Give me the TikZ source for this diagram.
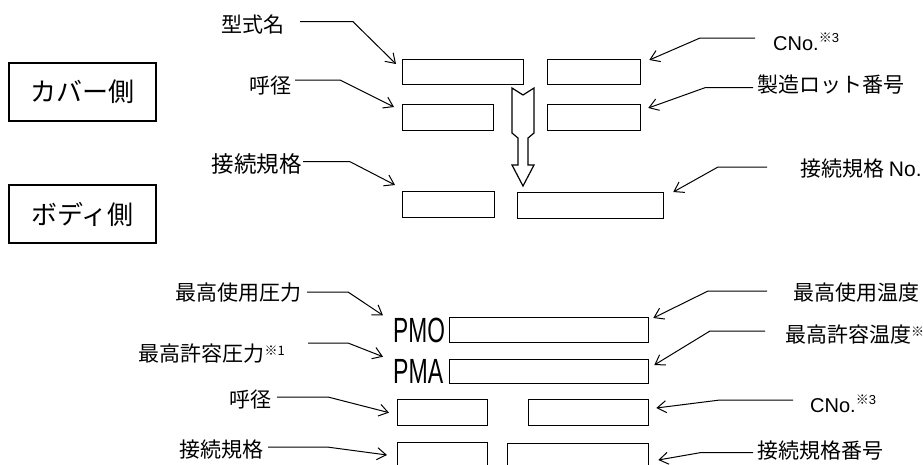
\documentclass[tikz,border=0pt]{standalone}
\usepackage{fontspec}
\setmainfont{Liberation Sans}
\newfontfamily\jp{Noto Sans CJK JP}
\usetikzlibrary{arrows.meta}
\newcommand{\kome}[2]{\raisebox{#2}{\fontsize{13}{13}\selectfont{\jp ※}#1}}
\begin{document}
\begin{tikzpicture}[x=1pt,y=-1pt,
  fld/.style={draw, line width=1.3pt, inner sep=0pt, anchor=north west},
  side/.style={draw, line width=1.6pt, inner sep=0pt, minimum width=147pt, minimum height=58pt, font=\jp\fontsize{26}{26}\selectfont},
  lbl/.style={inner sep=0pt, font=\jp\fontsize{21}{21}\selectfont},
  lead/.style={line width=1pt, -{Straight Barb[length=9pt,width=12pt]}},
  pm/.style={inner sep=0pt, anchor=base west, font=\fontsize{35}{35}\selectfont},
  blockarrow/.style={draw, line width=1.2pt, fill=white, line join=miter}
]
\clip (0,0) rectangle (923,464);
\fill[white] (0,0) rectangle (923,464);

% side boxes
\node[side] (cover) at (82.5,92) {カバー側};
\node[side] (body) at (82.5,214) {ボディ側};

% cover fields
\node[fld, minimum width=121pt, minimum height=25pt] (b1) at (402,59) {};
\node[fld, minimum width=93pt, minimum height=25pt] (b2) at (547,59) {};
\node[fld, minimum width=91pt, minimum height=26pt] (b3) at (402,104) {};
\node[fld, minimum width=93pt, minimum height=26pt] (b4) at (547,104) {};
% body fields
\node[fld, minimum width=92pt, minimum height=26pt] (b5) at (402,191) {};
\node[fld, minimum width=146pt, minimum height=26pt] (b6) at (517,192) {};

% bottom
\node[pm] (pmo) at (393,342) {\scalebox{0.65}[1]{PMO}};
\node[pm] (pma) at (393,383) {\scalebox{0.66}[1]{PMA}};
\node[fld, minimum width=199pt, minimum height=25pt] (b7) at (449,317) {};
\node[fld, minimum width=199pt, minimum height=24pt] (b8) at (449,359) {};
\node[fld, minimum width=90pt, minimum height=26pt] (b9) at (397,399) {};
\node[fld, minimum width=120pt, minimum height=26pt] (b10) at (528,399) {};
\node[fld, minimum width=90pt, minimum height=26pt] (b11) at (397,442) {};
\node[fld, minimum width=141pt, minimum height=26pt] (b12) at (507,443) {};

% block arrow
\draw[blockarrow] (512,88) -- (523,95) -- (534,88) -- (534,133) -- (528,138) -- (528,165)
  -- (534,165) -- (523,186) -- (512,165) -- (518,165) -- (518,138) -- (512,133) -- cycle;

% left labels
\node[lbl, anchor=east] (l1) at (285,25) {型式名};
\node[lbl, anchor=east] (l2) at (292,86) {呼径};
\node[lbl, anchor=east, font=\jp\fontsize{22.5}{22.5}\selectfont] (l3) at (302,164) {接続規格};
\node[lbl, anchor=east] (l4) at (302,293) {最高使用圧力};
\node[lbl, anchor=base east] (l5) at (285,361.5) {最高許容圧力\kome{1}{6pt}};
\node[lbl, anchor=east] (l6) at (272,400) {呼径};
\node[lbl, anchor=east] (l7) at (264,450) {接続規格};

\draw[lead] ([xshift=15pt,yshift=3.3pt]l1.east) -- ++(53,0) -- ([shift={(-6pt,-5pt)}]b1.north west);
\draw[lead] ([xshift=3pt,yshift=6pt]l2.east) -- ++(45,0) -- ([shift={(-8pt,-3pt)}]b3.north west);
\draw[lead] ([xshift=1pt,yshift=2.3pt]l3.east) -- ++(47,0) -- ([shift={(-7pt,6pt)}]b5.north west);
\draw[lead] ([xshift=5pt,yshift=1pt]l4.east) -- ++(41,0) -- ([shift={(-10pt,2pt)}]pmo.north west);
\draw[lead] ([xshift=23pt,yshift=18.5pt]l5.base east) -- ++(40,0) -- ([shift={(-10pt,2pt)}]pma.north west);
\draw[lead] ([xshift=5pt,yshift=3pt]l6.east) -- ++(51,0) -- ([shift={(-8pt,0pt)}]b9.west);
\draw[lead] ([xshift=4pt,yshift=3pt]l7.east) -- ++(59,0) -- ([shift={(-10pt,-13pt)}]b11.north west);

% right labels
\node[lbl, anchor=base west, font=\fontsize{20}{20}\selectfont] (r1) at (773,50) {CNo.\kome{3}{8pt}};
\node[lbl, anchor=west] (r2) at (757,84.5) {製造ロット番号};
\node[lbl, anchor=west] (r3) at (800,168.5) {接続規格 {\fontspec{Liberation Sans}No.}};
\node[lbl, anchor=west] (r4) at (793,292.5) {最高使用温度};
\node[lbl, anchor=west] (r5) at (785,335) {最高許容温度\kome{}{6pt}};
\node[lbl, anchor=base west, font=\fontsize{20}{20}\selectfont] (r6) at (810,412) {CNo.\kome{3}{8pt}};
\node[lbl, anchor=west] (r7) at (757,450.5) {接続規格番号};

\draw[lead] ([xshift=-18pt,yshift=12pt]r1.base west) -- ++(-55,0) -- ([shift={(8pt,-1pt)}]b2.north east);
\draw[lead] ([xshift=-4pt,yshift=-3.2pt]r2.west) -- ++(-48,0) -- ([shift={(7pt,-4pt)}]b4.north east);
\draw[lead] ([xshift=-33pt,yshift=1.5pt]r3.west) -- ++(-49,0) -- ([shift={(9pt,0pt)}]b6.north east);
\draw[lead] ([xshift=-26pt,yshift=1.5pt]r4.west) -- ++(-59,0) -- ([shift={(4pt,-1pt)}]b7.north east);
\draw[lead] ([xshift=-20pt,yshift=4pt]r5.west) -- ++(-55,0) -- ([shift={(5pt,-6pt)}]b8.north east);
\draw[lead] ([xshift=-17pt,yshift=12pt]r6.base west) -- ++(-73,0) -- ([shift={(7pt,-9pt)}]b10.north east);
\draw[lead] ([xshift=-4pt,yshift=-2.2pt]r7.west) -- ++(-53,0) -- ([shift={(9pt,-17pt)}]b12.north east);
\end{tikzpicture}
\end{document}
